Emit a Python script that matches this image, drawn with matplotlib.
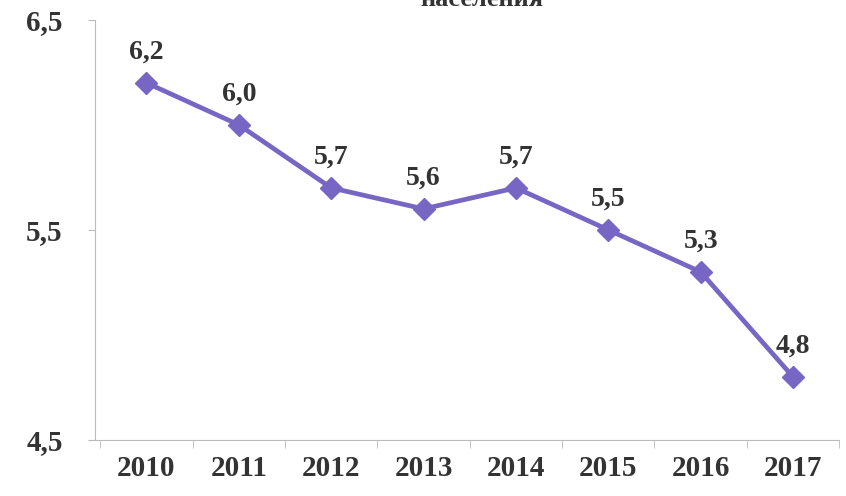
import numpy as np
import matplotlib.pyplot as plt

years = ['2010', '2011', '2012', '2013', '2014', '2015', '2016', '2017']
values = [6.2, 6.0, 5.7, 5.6, 5.7, 5.5, 5.3, 4.8]
y_ticks = [4.5, 5.5, 6.5]

plt.rcParams['font.family'] = ['Liberation Serif', 'DejaVu Serif']
plt.rcParams['font.weight'] = 'bold'

fig = plt.figure(figsize=(8.46, 4.96), dpi=100)
ax = fig.add_axes([0.112, 0.113, 0.88, 0.847])

x = np.arange(len(years))
ax.plot(x, values, color='#7766c4', linewidth=3.4, marker='D', markersize=11,
        zorder=3)
for xi, v in zip(x, values):
    ax.annotate(f'{v:.1f}'.replace('.', ','), (xi, v), xytext=(0, 13),
                textcoords='offset points', ha='center', va='bottom',
                fontsize=20, fontweight='bold', color='#333333')

ax.set_xlim(-0.56, 7.5)
ax.set_ylim(4.5, 6.5)
ax.set_xticks(x)
ax.set_xticklabels(years)
ax.set_xticks(np.arange(-0.5, 8, 1), minor=True)
ax.tick_params(axis='x', which='major', length=0, pad=11, labelsize=21,
               labelcolor='#333333')
ax.tick_params(axis='x', which='minor', length=6, color='#bbbbbb')
ax.set_yticks(y_ticks)
ax.set_yticklabels([f'{t:.1f}'.replace('.', ',') for t in y_ticks])
ax.tick_params(axis='y', length=5, color='#bbbbbb', pad=18, labelsize=21,
               labelcolor='#333333')

for s in ['top', 'right']:
    ax.spines[s].set_visible(False)
for s in ['left', 'bottom']:
    ax.spines[s].set_color('#bbbbbb')

fig.text(0.57, 1.0, 'населения', ha='center', va='center', fontsize=19,
         fontweight='bold', color='#333333')

fig.savefig('out.png', dpi=100)
